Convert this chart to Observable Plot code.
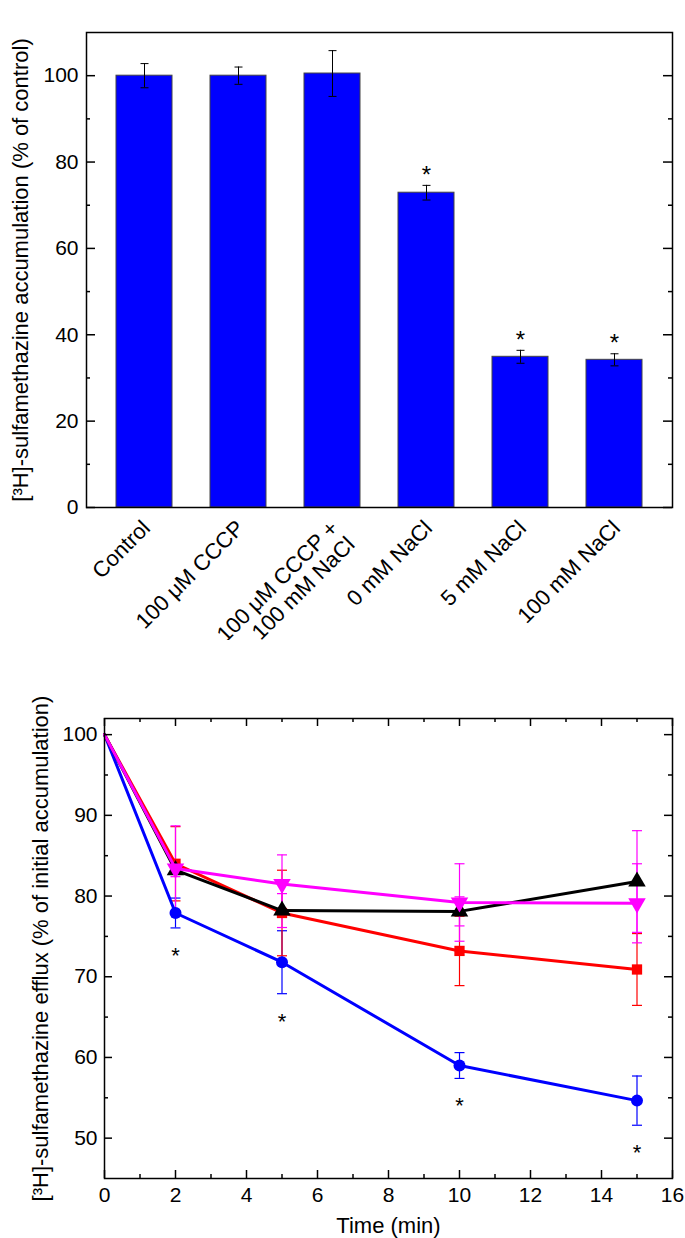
<!DOCTYPE html>
<html><head><meta charset="utf-8">
<script src="https://cdn.jsdelivr.net/npm/d3@7"></script>
<script src="https://cdn.jsdelivr.net/npm/@observablehq/plot@0.6"></script>
<style>
body{margin:0;background:#fff;}
#wrap{position:relative;width:685px;height:1238px;font-family:"Liberation Sans",Arial,sans-serif;background:#fff;}
#wrap svg{display:block;position:absolute;left:0;}
.panel{position:absolute;font-weight:bold;font-size:23px;line-height:1;}
</style></head><body><div id="wrap"><div class="panel" style="left:8px;top:0px">a</div><div class="panel" style="left:7px;top:667px">b</div></div>
<script>
// ---------- Panel a data ----------
const categories = ["Control", "100 μM CCCP", "100 μM CCCP +\n100 mM NaCl", "0 mM NaCl", "5 mM NaCl", "100 mM NaCl"];
const accumulation = [100, 100, 100.5, 72.9, 34.9, 34.2];
const accumulationErr = [2.8, 2.0, 5.3, 1.7, 1.5, 1.4];
const accumulationSig = [false, false, false, true, true, true];
const yTicksA = [0, 20, 40, 60, 80, 100];
const yMinorA = [10, 30, 50, 70, 90];
const yLabelA = "[³H]-sulfamethazine accumulation (% of control)";

// ---------- Panel b data ----------
const times = [0, 2, 5, 10, 15];
const effluxBlue = [100, 77.9, 71.8, 59.0, 54.65];
const effluxBlueErr = [0, 1.85, 3.9, 1.6, 3.05];
const effluxRed = [100, 84.0, 77.9, 73.2, 70.9];
const effluxRedErr = [0, 4.6, 5.3, 4.3, 4.45];
const effluxBlack = [100, 83.2, 78.2, 78.1, 81.8];
const effluxBlackErr = [0, 0.8, 2.1, 1.8, 6.3];
const effluxMagenta = [100, 83.4, 81.5, 79.2, 79.1];
const effluxMagentaErr = [0, 5.3, 3.6, 4.8, 4.9];
const effluxSig = [false, true, true, true, true];
const xTicksB = [0, 2, 4, 6, 8, 10, 12, 14, 16];
const xMinorB = [1, 3, 5, 7, 9, 11, 13, 15];
const yTicksB = [50, 60, 70, 80, 90, 100];
const yMinorB = [55, 65, 75, 85, 95];
const yLabelB = "[³H]-sulfamethazine efflux (% of initial accumulation)";
const xLabelB = "Time (min)";

const FONT = '"Liberation Sans", Arial, sans-serif';
const cap = (w) => ({draw(ctx) { ctx.moveTo(-w, 0); ctx.lineTo(w, 0); }});
const TICK_FS = 21, CAT_FS = 22, TITLE_FS = 22;

// ---------- Panel a ----------
const barData = categories.map((c, i) => ({cat: c, v: accumulation[i], e: accumulationErr[i], sig: accumulationSig[i]}));
const A = {w: 685, h: 640, ml: 86, mr: 13, mt: 32, mb: 133};
const aFW = A.w - A.ml - A.mr;
const tickStyle = {stroke: "#000", strokeWidth: 1.5};

const plotA = Plot.plot({
  width: A.w, height: A.h, marginLeft: A.ml, marginRight: A.mr, marginTop: A.mt, marginBottom: A.mb,
  style: {fontFamily: FONT, fontSize: "20px", color: "#000", background: "#fff", overflow: "visible"},
  x: {domain: categories, paddingInner: 0.4, paddingOuter: 0.3, axis: null},
  y: {domain: [0, 110], axis: null},
  marks: [
    Plot.barY(barData, {x: "cat", y: "v", fill: "#0000ff", stroke: "#444", strokeWidth: 1}),
    Plot.ruleX(barData, {x: "cat", y1: d => d.v - d.e, y2: d => d.v + d.e, stroke: "#000", strokeWidth: 1}),
    Plot.dot(barData, {x: "cat", y: d => d.v + d.e, symbol: cap(4), fill: "none", stroke: "#000", strokeWidth: 1}),
    Plot.dot(barData, {x: "cat", y: d => d.v - d.e, symbol: cap(4), fill: "none", stroke: "#000", strokeWidth: 1}),
    Plot.text(barData.filter(d => d.sig), {x: "cat", y: d => d.v + d.e, text: () => "*", dy: -10, fontSize: 24}),
    Plot.ruleY(yTicksA, {insetRight: aFW - 9, ...tickStyle}),
    Plot.ruleY(yTicksA, {insetLeft: aFW - 9, ...tickStyle}),
    Plot.ruleY(yMinorA, {insetRight: aFW - 4, ...tickStyle}),
    Plot.ruleY(yMinorA, {insetLeft: aFW - 4, ...tickStyle}),
    Plot.text(yTicksA, {y: d => d, frameAnchor: "left", dx: -8, textAnchor: "end", lineAnchor: "middle", fontSize: TICK_FS}),
    Plot.text(categories.filter((c, i) => i !== 2), {x: d => d, frameAnchor: "bottom", dx: 2, dy: 17, rotate: -45, textAnchor: "end", lineAnchor: "middle", fontSize: CAT_FS}),
    Plot.text(categories.filter((c, i) => i === 2), {x: d => d, frameAnchor: "bottom", dx: 10, dy: 25, rotate: -45, textAnchor: "end", lineAnchor: "middle", lineHeight: 1.05, fontSize: CAT_FS}),
    Plot.text([yLabelA], {frameAnchor: "left", rotate: -90, dx: -66, textAnchor: "middle", lineAnchor: "middle", fontSize: TITLE_FS}),
    Plot.frame({stroke: "#000", strokeWidth: 1.5})
  ]
});
plotA.style.top = "0px";

// ---------- Panel b ----------
const series = [
  {key: "blue", values: effluxBlue, errs: effluxBlueErr, color: "#0000ff", errColor: "#0000ff", symbol: "circle", r: 6, rotate: 0},
  {key: "red", values: effluxRed, errs: effluxRedErr, color: "#ff0000", errColor: "#ff0000", symbol: "square", r: 5.8, rotate: 0},
  {key: "black", values: effluxBlack, errs: effluxBlackErr, color: "#000000", errColor: "#ff00ff", symbol: "triangle", r: 6.5, rotate: 0},
  {key: "magenta", values: effluxMagenta, errs: effluxMagentaErr, color: "#ff00ff", errColor: "#ff00ff", symbol: "triangle", r: 6.5, rotate: 180}
];
const rows = series.flatMap(s => times.map((t, i) => ({t, v: s.values[i], e: s.errs[i], key: s.key})));
const B = {w: 685, h: 598, ml: 104, mr: 13, mt: 78, mb: 60};
const bFW = B.w - B.ml - B.mr, bFH = B.h - B.mt - B.mb;

const errMarks = series.flatMap(s => {
  const d = rows.filter(r => r.key === s.key && r.e > 0);
  return [
    Plot.ruleX(d, {x: "t", y1: r => r.v - r.e, y2: r => r.v + r.e, stroke: s.errColor, strokeWidth: 1.2}),
    Plot.dot(d, {x: "t", y: r => r.v + r.e, symbol: cap(5), fill: "none", stroke: s.errColor, strokeWidth: 1.2}),
    Plot.dot(d, {x: "t", y: r => r.v - r.e, symbol: cap(5), fill: "none", stroke: s.errColor, strokeWidth: 1.2})
  ];
});
const lineMarks = series.flatMap(s => {
  const d = rows.filter(r => r.key === s.key);
  return [
    Plot.line(d, {x: "t", y: "v", stroke: s.color, strokeWidth: 3}),
    Plot.dot(d.filter(r => r.t > 0), {x: "t", y: "v", symbol: s.symbol, r: s.r, rotate: s.rotate, fill: s.color, stroke: "none"})
  ];
});
const sigRows = times.map((t, i) => ({t, v: effluxBlue[i] - effluxBlueErr[i], sig: effluxSig[i]})).filter(d => d.sig);

const plotB = Plot.plot({
  width: B.w, height: B.h, marginLeft: B.ml, marginRight: B.mr, marginTop: B.mt, marginBottom: B.mb,
  style: {fontFamily: FONT, fontSize: "20px", color: "#000", background: "#fff", overflow: "visible"},
  x: {domain: [0, 16], axis: null},
  y: {domain: [45, 102], axis: null},
  marks: [
    ...errMarks,
    ...lineMarks,
    Plot.text(sigRows, {x: "t", y: "v", text: () => "*", dy: 28, fontSize: 22}),
    Plot.ruleX(xTicksB, {insetTop: bFH - 8, ...tickStyle}),
    Plot.ruleX(xTicksB, {insetBottom: bFH - 8, ...tickStyle}),
    Plot.ruleX(xMinorB, {insetTop: bFH - 4, ...tickStyle}),
    Plot.ruleX(xMinorB, {insetBottom: bFH - 4, ...tickStyle}),
    Plot.ruleY(yTicksB, {insetRight: bFW - 8, ...tickStyle}),
    Plot.ruleY(yTicksB, {insetLeft: bFW - 8, ...tickStyle}),
    Plot.ruleY(yMinorB, {insetRight: bFW - 4, ...tickStyle}),
    Plot.ruleY(yMinorB, {insetLeft: bFW - 4, ...tickStyle}),
    Plot.text(xTicksB, {x: d => d, frameAnchor: "bottom", dy: 17, textAnchor: "middle", lineAnchor: "middle", fontSize: TICK_FS}),
    Plot.text(yTicksB, {y: d => d, frameAnchor: "left", dx: -7, textAnchor: "end", lineAnchor: "middle", fontSize: TICK_FS}),
    Plot.text([xLabelB], {frameAnchor: "bottom", dy: 47, textAnchor: "middle", lineAnchor: "middle", fontSize: TITLE_FS}),
    Plot.text([yLabelB], {frameAnchor: "left", rotate: -90, dx: -64, textAnchor: "middle", lineAnchor: "middle", fontSize: TITLE_FS}),
    Plot.frame({stroke: "#000", strokeWidth: 1.5})
  ]
});
plotB.style.top = "640px";

const wrap = document.getElementById("wrap");
wrap.appendChild(plotA);
wrap.appendChild(plotB);
</script>
</body></html>
